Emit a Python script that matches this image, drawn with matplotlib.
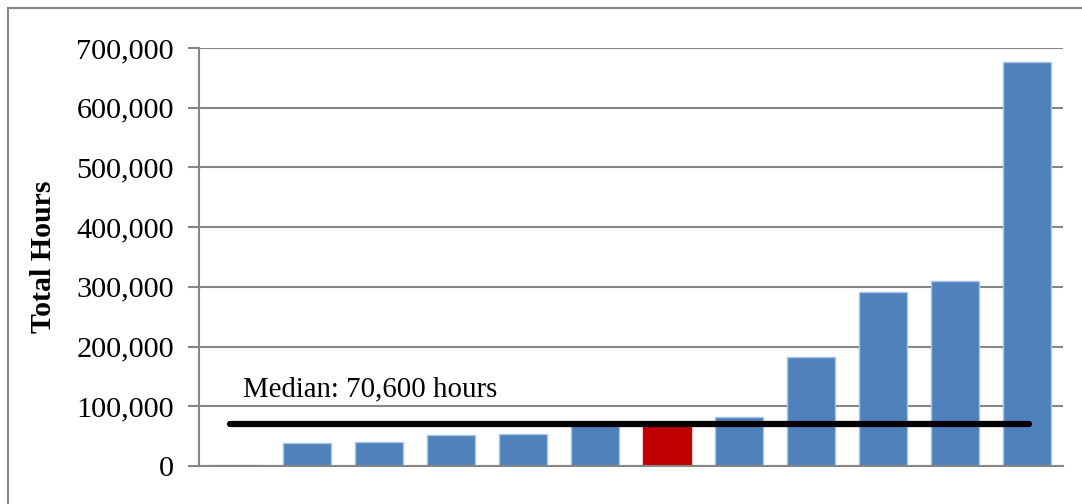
import matplotlib
matplotlib.use("Agg")
import matplotlib.pyplot as plt
from matplotlib.patches import Rectangle
from matplotlib.ticker import FuncFormatter, MultipleLocator

# Total hours per program, sorted ascending; the median program is highlighted
programs = ["P1", "P2", "P3", "P4", "P5", "P6", "P7", "P8", "P9", "P10", "P11", "P12"]
total_hours = [2500, 39000, 40700, 51400, 53600, 70000, 71200, 82500, 182400, 290600, 309000, 676000]
median_hours = 70600
median_index = 6

blue = "#4F81BD"
red = "#C00000"
grid_gray = "#868686"

plt.rcParams["font.family"] = ["Liberation Serif", "DejaVu Serif"]

fig = plt.figure(figsize=(10.82, 5.04), dpi=100)
ax = fig.add_axes([199 / 1082, 1 - 466 / 504, (1063 - 199) / 1082, (466 - 48) / 504])

colors = [red if i == median_index else blue for i in range(len(programs))]
x = list(range(len(programs)))
ax.bar(x, total_hours, width=0.667, color=colors, edgecolor="#A9C4E6",
       linewidth=1.0, zorder=2)
# red bar keeps a plain outline
ax.patches[median_index].set_edgecolor(red)

# median reference line
ax.hlines(median_hours, x[0] - 0.07, x[-1] + 0.03, color="black", linewidth=4.5,
          capstyle="round", zorder=3)
ax.text(x[0] + 0.11, median_hours + 46000, f"Median: {median_hours:,} hours",
        fontsize=20.8, ha="left", va="baseline", color="black")

ax.set_xlim(-0.5, len(programs) - 0.5)
ax.set_ylim(0, 700000)
ax.yaxis.set_major_locator(MultipleLocator(100000))
ax.yaxis.set_major_formatter(FuncFormatter(lambda v, p: f"{int(v):,}"))
ax.set_xticks([])

ax.grid(axis="y", color=grid_gray, linewidth=1.5, zorder=0)
ax.set_axisbelow(True)
for side in ["top", "right"]:
    ax.spines[side].set_visible(False)
ax.spines["left"].set_color(grid_gray)
ax.spines["left"].set_linewidth(1.5)
ax.spines["bottom"].set_color(grid_gray)
ax.spines["bottom"].set_linewidth(1.5)
ax.tick_params(axis="y", length=8, width=1.5, color=grid_gray, pad=10,
               labelsize=21.8, labelcolor="black")

ax.set_ylabel("Total Hours", fontsize=21.5, fontweight="bold", labelpad=14)

# outer chart border
fig.patches.append(Rectangle((8 / 1082, -0.1), 1.2, 1 - 8 / 504 + 0.1,
                             transform=fig.transFigure, fill=False,
                             edgecolor=grid_gray, linewidth=1.5))

fig.savefig("out.png", dpi=100)
